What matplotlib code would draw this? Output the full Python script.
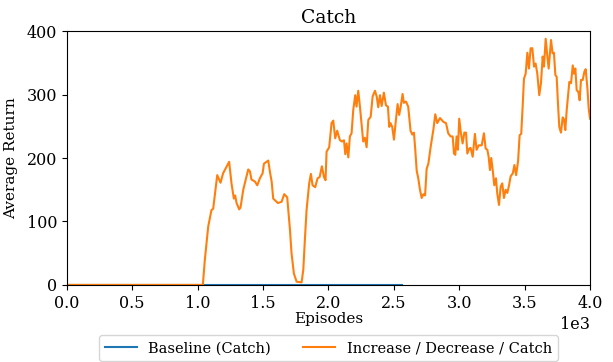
import matplotlib
matplotlib.use('Agg')
import matplotlib.pyplot as plt

# Episode checkpoints and smoothed returns
baseline_episodes = [0, 2560]
baseline_returns = [0, 0]

episodes = [
    0, 1040, 1055, 1081, 1106, 1119, 1140, 1150, 1175, 1195, 1221, 1241, 1259, 1277, 1287,
    1298, 1318, 1328, 1349, 1374, 1387, 1400, 1412, 1438, 1456, 1476, 1497, 1507, 1540,
    1553, 1566, 1578, 1604, 1614, 1642, 1662, 1685, 1706, 1718, 1736, 1757, 1795, 1808,
    1820, 1833, 1853, 1866, 1879, 1899, 1917, 1933, 1950, 1966, 1978, 1986, 2006, 2024,
    2037, 2052, 2067, 2088, 2104, 2119, 2129, 2139, 2152, 2164, 2177, 2190, 2205, 2215,
    2228, 2241, 2254, 2266, 2279, 2292, 2305, 2323, 2338, 2356, 2369, 2381, 2394, 2407,
    2424, 2440, 2455, 2465, 2475, 2488, 2501, 2516, 2529, 2541, 2552, 2567, 2577, 2593,
    2610, 2628, 2641, 2654, 2664, 2675, 2687, 2700, 2713, 2726, 2739, 2751, 2764, 2782,
    2802, 2817, 2832, 2853, 2879, 2899, 2916, 2934, 2950, 2960, 2970, 2980, 2990, 3000,
    3013, 3026, 3039, 3052, 3062, 3077, 3087, 3103, 3120, 3133, 3149, 3172, 3189, 3202,
    3215, 3225, 3235, 3245, 3256, 3268, 3281, 3291, 3304, 3317, 3329, 3342, 3355, 3368,
    3381, 3393, 3410, 3422, 3435, 3450, 3462, 3474, 3485, 3495, 3508, 3521, 3533, 3546,
    3559, 3572, 3584, 3597, 3612, 3625, 3638, 3648, 3661, 3674, 3684, 3702, 3714, 3724,
    3735, 3745, 3755, 3765, 3778, 3791, 3801, 3811, 3822, 3834, 3842, 3855, 3868, 3878,
    3888, 3898, 3911, 3921, 3931, 3944, 3957, 3967, 3980, 3990, 4000,
]
returns = [
    0, 0, 39, 92, 118, 120, 155, 173, 161, 176, 186, 194, 160, 136, 141,
    129, 119, 122, 150, 171, 182, 179, 166, 163, 157, 168, 176, 191, 196,
    178, 163, 136, 131, 129, 131, 143, 138, 87, 50, 18, 5, 4, 24,
    71, 118, 160, 175, 157, 154, 168, 170, 187, 170, 165, 210, 217, 255,
    259, 231, 243, 228, 226, 228, 206, 223, 201, 234, 239, 276, 299, 281,
    306, 281, 252, 226, 232, 217, 260, 265, 297, 306, 297, 280, 299, 282,
    303, 283, 281, 249, 255, 249, 229, 260, 285, 268, 280, 301, 287, 289,
    281, 243, 237, 240, 213, 180, 168, 150, 137, 143, 141, 183, 191, 218,
    244, 269, 255, 263, 257, 255, 239, 234, 234, 207, 205, 234, 213, 262,
    239, 223, 240, 240, 207, 215, 216, 202, 238, 213, 220, 220, 239, 215,
    213, 202, 181, 200, 181, 157, 168, 144, 126, 155, 160, 137, 150, 145,
    157, 171, 176, 189, 173, 195, 236, 238, 281, 325, 333, 366, 341, 373,
    373, 344, 349, 333, 299, 318, 360, 344, 388, 360, 341, 386, 365, 366,
    331, 328, 286, 249, 240, 264, 261, 244, 276, 302, 320, 318, 346, 333,
    341, 307, 304, 291, 323, 323, 336, 340, 310, 278, 262,
]

plt.rcParams['font.family'] = 'DejaVu Serif'

fig = plt.figure(figsize=(6.13, 3.62), dpi=100)
ax = fig.add_axes([0.109, 0.213, 0.8535, 0.701])

ax.plot(baseline_episodes, baseline_returns, color='#1f77b4', lw=1.5, label='Baseline (Catch)')
ax.plot(episodes, returns, color='#ff7f0e', lw=1.5, label='Increase / Decrease / Catch')

ax.set_xlim(0, 4000)
ax.set_ylim(0, 400)
ax.set_yticks([0, 100, 200, 300, 400])
ax.ticklabel_format(style='sci', axis='x', scilimits=(3, 3))
ax.tick_params(labelsize=11.5)
ax.xaxis.get_offset_text().set_fontsize(11.5)

ax.set_title('Catch', fontsize=13.5)
ax.set_xlabel('Episodes', fontsize=11, labelpad=0)
ax.set_ylabel('Average Return', fontsize=11, labelpad=6)

ax.legend(loc='upper center', bbox_to_anchor=(0.5, -0.17), ncol=2, fontsize=10.5,
          handlelength=2.2, columnspacing=2.2)

fig.savefig('out.png', dpi=100)
